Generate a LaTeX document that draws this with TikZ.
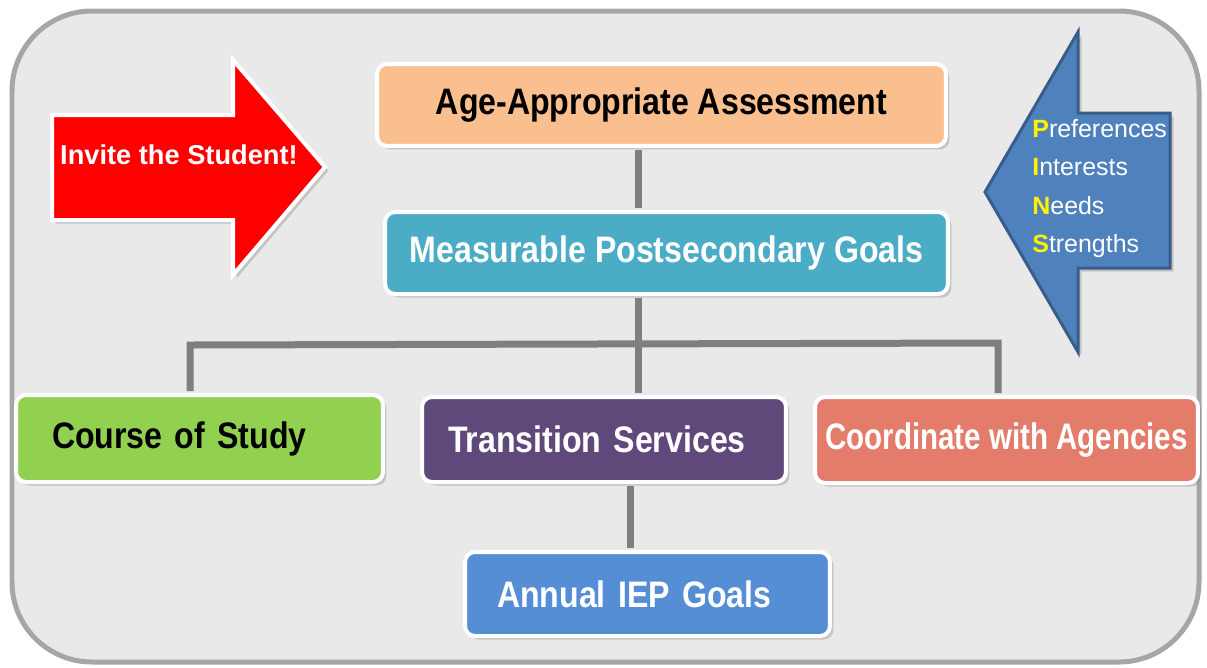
\documentclass[tikz,border=0pt]{standalone}
\usepackage{fontspec}
\setmainfont{Liberation Sans}
\newfontfamily\boxfont{Liberation Sans}[FakeStretch=0.87]
\newfontfamily\agencyfont{Liberation Sans}[FakeStretch=0.8]
\usetikzlibrary{shadows}
\definecolor{peach}{HTML}{F9BF8F}
\definecolor{goalteal}{HTML}{4BACC6}
\definecolor{coursegreen}{HTML}{92D050}
\definecolor{transpurple}{HTML}{5F497A}
\definecolor{agencysalmon}{HTML}{E47C6C}
\definecolor{annualblue}{HTML}{558ED5}
\definecolor{pinsblue}{HTML}{4F81BD}
\definecolor{pinsedge}{HTML}{385D8A}
\definecolor{linkgray}{HTML}{7F7F7F}
\definecolor{framegray}{HTML}{A6A6A6}
\definecolor{backgray}{HTML}{E9E9E9}
\tikzset{
    softshadow/.style={drop shadow={opacity=0.35,shadow xshift=0.07cm,shadow yshift=-0.07cm}},
    box/.style={rounded corners=0.2cm,draw=white,line width=0.08cm,softshadow,
        font=\boxfont\bfseries\fontsize{21}{24}\selectfont},
    link/.style={draw=linkgray,line width=0.14cm,shorten >=0.04cm,shorten <=0.04cm}
}
\begin{document}
\begin{tikzpicture}[x=0.02cm,y=-0.02cm]
    \useasboundingbox (0,0) rectangle (1207,667);
    \draw [line width=0.1cm][draw=framegray][fill=backgray][rounded corners=1.6cm] (12,11) rectangle (1199,662);
    \draw [line width=0.08cm][draw=white][fill=red][softshadow] (52,115) -- (233,115) -- (233,60) -- (325,167) -- (233,275) -- (233,220) -- (52,220) -- cycle;
    \node (invite) at (179,155) [text=white,font=\bfseries\fontsize{15.5}{18}\selectfont] {Invite the Student!};
    \draw [line width=0.06cm][draw=pinsedge][fill=pinsblue][softshadow] (985,192) -- (1078,32) -- (1078,113) -- (1170,113) -- (1170,268) -- (1078,268) -- (1078,352) -- cycle;
    \node (pins) at (1032,119) [anchor=north west,inner sep=0pt,align=left,text=white,font=\fontsize{14.2}{21.8}\selectfont]
        {\textbf{\textcolor{yellow}{P}}references\\\textbf{\textcolor{yellow}{I}}nterests\\\textbf{\textcolor{yellow}{N}}eeds\\\textbf{\textcolor{yellow}{S}}trengths};
    \node (assess) at (661.5,105) [box,fill=peach,minimum width=11.38cm,minimum height=1.64cm] {Age-Appropriate Assessment};
    \node (goals) at (666.5,253) [box,fill=goalteal,text=white,minimum width=11.26cm,minimum height=1.64cm] {\raisebox{-0.1cm}{Measurable Postsecondary Goals}};
    \node (course) at (199.5,438.5) [box,fill=coursegreen,text width=5.9cm,inner xsep=0.72cm,align=left,minimum height=1.74cm] {Course of Study};
    \node (trans) at (604,439.5) [box,fill=transpurple,text=white,text width=6.24cm,inner xsep=0.52cm,align=left,minimum height=1.7cm] {Transition Services};
    \node (coord) at (1006.5,440) [box,fill=agencysalmon,text=white,font=\agencyfont\bfseries\fontsize{21}{24}\selectfont,minimum width=7.66cm,minimum height=1.72cm] {Coordinate with Agencies};
    \node (annual) at (647.5,594) [box,fill=annualblue,text=white,text width=6.02cm,inner xsep=0.64cm,align=left,minimum height=1.68cm] {\raisebox{-0.06cm}{Annual IEP Goals}};
    \coordinate (trunk) at (638,343);
    \coordinate (branchl) at (190,345);
    \coordinate (branchr) at (998,343);
    \coordinate (tail) at (630,520);
    \draw [link] (assess.south -| trunk) -- (goals.north -| trunk);
    \draw [link] (goals.south -| trunk) -- (trunk) -- (trunk |- trans.north);
    \draw [link] (branchl |- course.north) -- (branchl) -- (branchr) -- (branchr |- coord.north);
    \draw [link] (trans.south -| tail) -- (annual.north -| tail);
\end{tikzpicture}
\end{document}
